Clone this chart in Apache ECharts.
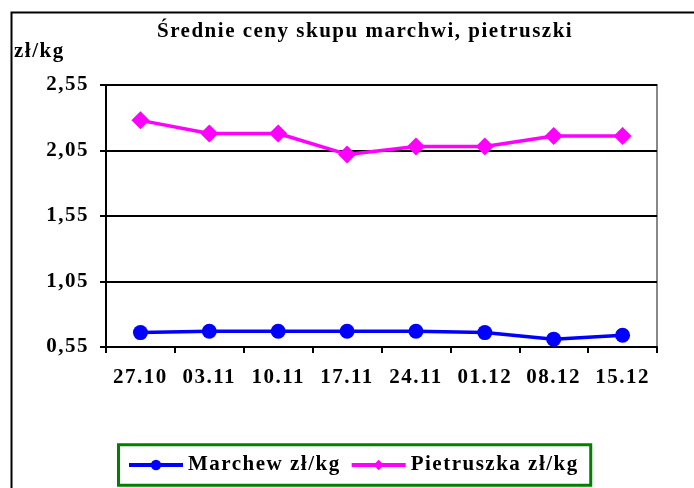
<!DOCTYPE html>
<html>
<head>
<meta charset="utf-8">
<script src="https://cdn.jsdelivr.net/npm/echarts@6/dist/echarts.min.js"></script>
<style>
html,body{margin:0;padding:0;background:#fff;}
#chart{width:694px;height:488px;}
</style>
</head>
<body>
<div id="chart"></div>
<script>
// --- data ---
const categories = ['27.10','03.11','10.11','17.11','24.11','01.12','08.12','15.12'];
const marchew = [0.66, 0.67, 0.67, 0.67, 0.67, 0.66, 0.61, 0.64];
const pietruszka = [2.28, 2.18, 2.18, 2.02, 2.08, 2.08, 2.16, 2.16];
const yTicks = [0.55, 1.05, 1.55, 2.05, 2.55];
const yTickLabels = ['0,55', '1,05', '1,55', '2,05', '2,55'];
const seriesNames = ['Marchew zł/kg', 'Pietruszka zł/kg'];
const titleText = 'Średnie ceny skupu marchwi, pietruszki';
const unitText = 'zł/kg';

// widen text slightly (letter spacing) like the original
(function(){
  const P = CanvasRenderingContext2D.prototype;
  ['fillText','strokeText','measureText'].forEach(function(fn){
    const o = P[fn];
    P[fn] = function(){ if ('letterSpacing' in this) this.letterSpacing = '1.5px'; return o.apply(this, arguments); };
  });
})();

const FONT = 'Liberation Serif';
const txt = {fontFamily: FONT, fontWeight: 'bold', fontSize: 21, color: '#000'};

const chart = echarts.init(document.getElementById('chart'), null, {renderer: 'canvas'});
chart.setOption({
  backgroundColor: '#fff',
  animation: false,
  title: [
    {text: titleText, left: 157, top: 20, padding: 0, textStyle: Object.assign({}, txt)},
    {text: unitText, left: 14, top: 40, padding: 0, textStyle: Object.assign({}, txt)}
  ],
  graphic: [{
    type: 'rect', left: 9, top: 10, z: -1,
    shape: {width: 800, height: 600},
    style: {fill: 'none', stroke: '#000', lineWidth: 2}
  }],
  grid: {
    left: 106, right: 37, top: 85, bottom: 141,
    show: true, borderColor: '#888', borderWidth: 2, backgroundColor: 'transparent'
  },
  legend: {
    data: seriesNames,
    left: 118.5, top: 444.8,
    padding: [9, 12, 9, 8.5],
    borderColor: '#008000', borderWidth: 3,
    itemWidth: 54, itemHeight: 13, itemGap: 9,
    lineStyle: {width: 4},
    textStyle: Object.assign({}, txt)
  },
  xAxis: {
    type: 'category', data: categories, boundaryGap: true,
    axisLine: {lineStyle: {color: '#000', width: 2}},
    axisTick: {show: true, length: 6, inside: false, lineStyle: {color: '#000', width: 2}},
    axisLabel: Object.assign({margin: 19, interval: 0}, txt),
    splitLine: {show: false}
  },
  yAxis: {
    type: 'value', min: 0.55, max: 2.55,
    axisLine: {show: true, lineStyle: {color: '#000', width: 2}},
    axisTick: {show: true, length: 6, customValues: yTicks, lineStyle: {color: '#000', width: 2}},
    axisLabel: Object.assign({
      margin: 17, customValues: yTicks,
      formatter: function(v){ const i = yTicks.findIndex(t => Math.abs(t - v) < 1e-6); return i >= 0 ? yTickLabels[i] : ''; }
    }, txt),
    splitLine: {show: true, lineStyle: {color: '#000', width: 2}}
  },
  series: [
    {
      name: seriesNames[0], type: 'line', data: marchew,
      symbol: 'circle', symbolSize: 15,
      itemStyle: {color: '#0000ff'},
      lineStyle: {color: '#0000ff', width: 3.5}
    },
    {
      name: seriesNames[1], type: 'line', data: pietruszka,
      symbol: 'diamond', symbolSize: 18,
      itemStyle: {color: '#ff00ff'},
      lineStyle: {color: '#ff00ff', width: 3.5}
    }
  ]
});
</script>
</body>
</html>
